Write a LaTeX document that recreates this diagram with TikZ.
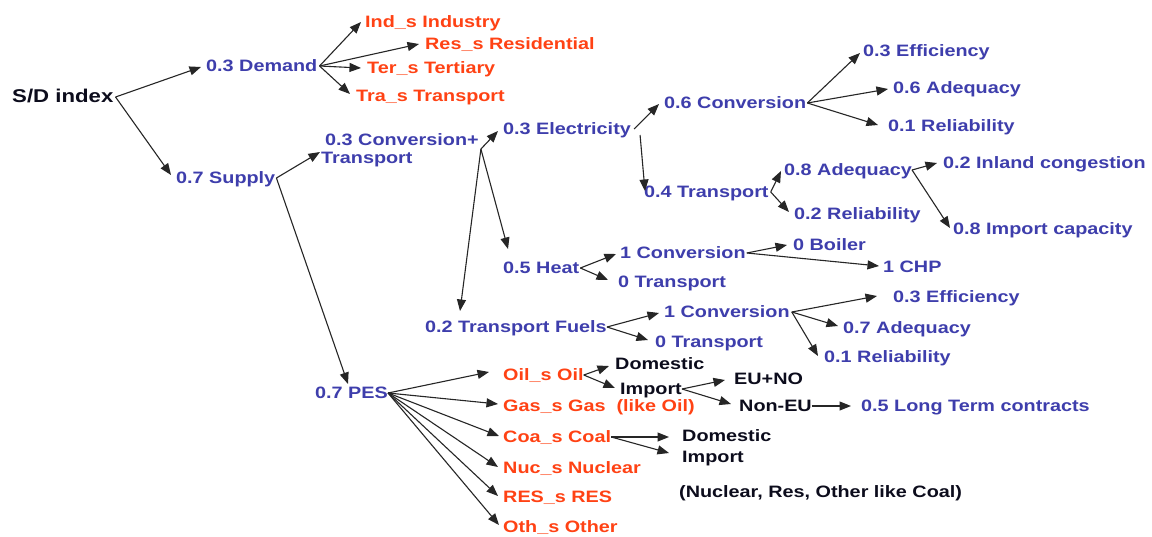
\documentclass[tikz,border=0pt]{standalone}
\usepackage{fontspec}
\setmainfont{Liberation Sans}[FakeStretch=1.2]
\usetikzlibrary{arrows.meta,calc}
\definecolor{tblue}{RGB}{62,62,172}
\definecolor{torange}{RGB}{255,66,20}
\definecolor{tblack}{RGB}{12,12,28}
\begin{document}
\begin{tikzpicture}[x=1pt,y=-1pt,
  lbase/.style={anchor=west,inner sep=0pt,font=\fontsize{16.5}{17.5}\selectfont\bfseries},
  lbl/.style={lbase,text height=11.8pt,text depth=0pt},
  bl/.style={lbl,text=tblue},
  rd/.style={lbl,text=torange},
  bk/.style={lbl,text=tblack},
  arr/.style={-{Triangle[length=11.5pt,width=9pt]},line width=1.1pt,draw=black!85}]
\useasboundingbox (0,0) rectangle (1152,536);
\fill[white] (0,0) rectangle (1152,536);

% nodes
\node[bk,font=\fontsize{18.5}{20}\selectfont\bfseries] (SD) at (12,97) {S/D index};
\node[bl] (Dem) at (206,66) {0.3 Demand};
\node[rd] (Ind) at (365,22) {Ind\_s Industry};
\node[rd] (Res) at (425,44) {Res\_s Residential};
\node[rd] (Ter) at (367,68) {Ter\_s Tertiary};
\node[rd] (Tra) at (356,96) {Tra\_s Transport};
\node[bl] (Sup) at (176,178) {0.7 Supply};
\node[lbase,text=tblue,align=left] (CT) at (321,150) {\hspace*{4pt}0.3 Conversion+\\Transport};
\node[bl] (Elec) at (503,129) {0.3 Electricity};
\node[bl] (Conv6) at (664,103) {0.6 Conversion};
\node[bl] (Eff3) at (863,51) {0.3 Efficiency};
\node[bl] (Adeq6) at (893,88) {0.6 Adequacy};
\node[bl] (Rel1) at (888,126) {0.1 Reliability};
\node[bl] (Tr4) at (644,192) {0.4 Transport};
\node[bl] (Adeq8) at (784,170) {0.8 Adequacy};
\node[bl] (Rel2) at (794,214) {0.2 Reliability};
\node[bl] (Inl) at (943,163) {0.2 Inland congestion};
\node[bl] (Imp) at (953,229) {0.8 Import capacity};
\node[bl] (Heat) at (503,268) {0.5 Heat};
\node[bl] (Conv1h) at (620,253) {1 Conversion};
\node[bl] (Tr0h) at (618,282) {0 Transport};
\node[bl] (Boil) at (793,245) {0 Boiler};
\node[bl] (CHP) at (883,267) {1 CHP};
\node[bl] (TF) at (425,327) {0.2 Transport Fuels};
\node[bl] (Conv1f) at (664,312) {1 Conversion};
\node[bl] (Tr0f) at (655,342) {0 Transport};
\node[bl] (Eff3f) at (893,297) {0.3 Efficiency};
\node[bl] (Adeq7) at (843,328) {0.7 Adequacy};
\node[bl] (Rel1f) at (824,357) {0.1 Reliability};
\node[bl] (PES) at (315,393) {0.7 PES};
\node[rd] (Oil) at (503,375) {Oil\_s Oil};
\node[bk] (Dom1) at (615,364) {Domestic};
\node[bk] (Imp1) at (620,389) {Import};
\node[bk] (EUNO) at (734,379) {EU+NO};
\node[bk] (NonEU) at (739,406) {Non-EU};
\node[bl] (LTC) at (861,406) {0.5 Long Term contracts};
\node[rd] (Gas) at (503,406) {Gas\_s Gas~~(like Oil)};
\node[rd] (Coal) at (503,437) {Coa\_s Coal};
\node[bk] (Dom2) at (682,436) {Domestic};
\node[bk] (Imp2) at (682,457) {Import};
\node[bk] (NRO) at (679,492) {(Nuclear, Res, Other like Coal)};
\node[rd] (Nuc) at (503,468) {Nuc\_s Nuclear};
\node[rd] (RES) at (503,497) {RES\_s RES};
\node[rd] (Oth) at (503,527) {Oth\_s Other};

% connectors
\draw[arr] ($(SD.east)+(2,0)$) -- ($(Dem.west)+(-5,1)$);
\draw[arr] ($(SD.east)+(2,0)$) -- ($(Sup.west)+(-5,-3)$);
\draw[arr] ($(Dem.east)+(2,0)$) -- ($(Ind.west)+(-4,0)$);
\draw[arr] ($(Dem.east)+(2,0)$) -- ($(Res.west)+(-6,0)$);
\draw[arr] ($(Dem.east)+(2,0)$) -- ($(Ter.west)+(-6,0)$);
\draw[arr] ($(Dem.east)+(2,0)$) -- ($(Tra.west)+(-6,-2)$);
\draw[arr] ($(Sup.east)+(1,0)$) -- ($(CT.west)+(-1,2)$);
\draw[arr] ($(Sup.east)+(1,0)$) -- ($(PES.west)+(33,-9)$);
\draw[arr] ($(CT.east)+(2,-1)$) -- ($(Elec.west)+(-5,2)$);
\draw[arr] ($(CT.east)+(2,-1)$) -- ($(Heat.west)+(5,-19)$);
\draw[arr] ($(CT.east)+(2,-1)$) -- ($(TF.west)+(35,-16)$);
\draw[arr] ($(Elec.east)+(3,0)$) -- ($(Conv6.west)+(-5,1)$);
\draw[arr] ($(Elec.east)+(9,6)$) -- ($(Tr4.west)+(1,-1)$);
\draw[arr] ($(Conv6.east)+(1,0)$) -- ($(Eff3.west)+(-3,2)$);
\draw[arr] ($(Conv6.east)+(1,0)$) -- ($(Adeq6.west)+(-5,1)$);
\draw[arr] ($(Conv6.east)+(1,0)$) -- ($(Rel1.west)+(-10,-1)$);
\draw[arr] ($(Tr4.east)+(2,0)$) -- ($(Adeq8.west)+(-3,1)$);
\draw[arr] ($(Tr4.east)+(2,0)$) -- ($(Rel2.west)+(-5,-2)$);
\draw[arr] (Adeq8.east) -- ($(Inl.west)+(-6,0)$);
\draw[arr] (Adeq8.east) -- ($(Imp.west)+(-3,-1)$);
\draw[arr] ($(Heat.east)+(1,0)$) -- ($(Conv1h.west)+(-4,1)$);
\draw[arr] ($(Heat.east)+(1,0)$) -- ($(Tr0h.west)+(-10,-2)$);
\draw[arr] ($(Conv1h.east)+(1,0)$) -- ($(Boil.west)+(-6,0)$);
\draw[arr] ($(Conv1h.east)+(1,0)$) -- ($(CHP.west)+(-4,-1)$);
\draw[arr] (TF.east) -- ($(Conv1f.west)+(-5,1)$);
\draw[arr] (TF.east) -- ($(Tr0f.west)+(-7,-2)$);
\draw[arr] ($(Conv1f.east)+(2,0)$) -- ($(Eff3f.west)+(-16,-1)$);
\draw[arr] ($(Conv1f.east)+(2,0)$) -- ($(Adeq7.west)+(-5,-2)$);
\draw[arr] ($(Conv1f.east)+(2,0)$) -- ($(Rel1f.west)+(-6,-1)$);
\draw[arr] (PES.east) -- ($(Oil.west)+(-14,-3)$);
\draw[arr] (PES.east) -- ($(Gas.west)+(-5,-2)$);
\draw[arr] (PES.east) -- ($(Coal.west)+(-4,-1)$);
\draw[arr] (PES.east) -- ($(Nuc.west)+(-5,-1)$);
\draw[arr] (PES.east) -- ($(RES.west)+(-5,-1)$);
\draw[arr] (PES.east) -- ($(Oth.west)+(-4,-2)$);
\draw[arr] (Oil.east) -- ($(Dom1.west)+(-6,2)$);
\draw[arr] (Oil.east) -- ($(Imp1.west)+(-5,-1)$);
\draw[arr] (Imp1.east) -- ($(EUNO.west)+(-9,1)$);
\draw[arr] (Imp1.east) -- ($(NonEU.west)+(-8,-2)$);
\draw[arr] (NonEU.east) -- ($(LTC.west)+(-10,0)$);
\draw[arr] (Coal.east) -- ($(Dom2.west)+(-13,1)$);
\draw[arr] (Coal.east) -- ($(Imp2.west)+(-13,-4)$);
\end{tikzpicture}
\end{document}
